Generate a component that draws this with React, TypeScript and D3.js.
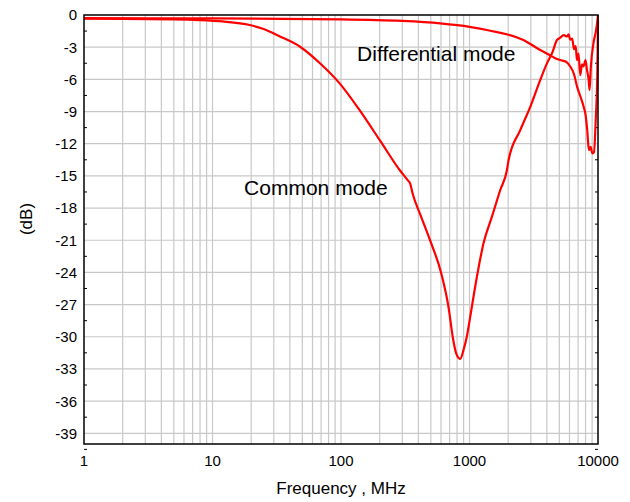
import React, { useRef, useEffect } from "react";
import * as d3 from "d3";

// frequency (MHz) / attenuation (dB)
const commonFreq = [1, 2, 5, 8, 12, 19.5, 25, 33.5, 48, 68.6, 98, 140, 201, 288, 330, 345, 360, 420, 493, 600, 690, 740, 790, 846, 900, 960, 1012, 1141, 1284, 1493, 1733, 1955, 2013, 2483, 2970, 3549, 4006, 4385, 4800, 5100, 5400, 5730, 5900, 6080, 6300, 6500, 6700, 6860, 7050, 7280, 7500, 7700, 8000, 8200, 8450, 8600, 8800, 9230, 9600, 9830, 10000];
const commonDb = [-0.35, -0.37, -0.4, -0.47, -0.6, -0.93, -1.3, -2.0, -2.96, -4.5, -6.4, -8.9, -11.7, -14.5, -15.4, -15.7, -16.6, -18.8, -21.0, -24.0, -27.4, -30.0, -31.6, -32.06, -31.2, -29.8, -28.17, -24.43, -21.3, -18.83, -16.34, -14.47, -13.54, -10.74, -8.56, -6.07, -4.51, -3.58, -2.33, -2.1, -1.87, -2.0, -1.8, -2.3, -2.2, -3.2, -2.9, -4.2, -3.6, -5.6, -4.6, -4.8, -4.2, -5.1, -6.0, -7.0, -4.8, -2.6, -1.6, -0.8, 0];

const diffFreq = [1, 10, 100, 300, 590, 1000, 1366, 2630, 3549, 4200, 4600, 5060, 5640, 6080, 6500, 6880, 7300, 7750, 8000, 8240, 8490, 8760, 9030, 9300, 9600, 9890, 10000];
const diffDb = [-0.3, -0.32, -0.4, -0.55, -0.78, -1.1, -1.4, -2.33, -3.27, -3.73, -4.0, -4.2, -4.36, -4.8, -5.5, -6.7, -7.6, -8.6, -9.3, -10.7, -12.6, -12.3, -12.9, -12.8, -9.8, -5.1, -0.5];

const yTicks = [0, -3, -6, -9, -12, -15, -18, -21, -24, -27, -30, -33, -36, -39];
const xTicks = [1, 10, 100, 1000, 10000];

const App: React.FC = () => {
  const svgRef = useRef<SVGSVGElement>(null);

  useEffect(() => {
    const margin = { top: 15, right: 32, bottom: 58, left: 84 };
    const width = 630 - margin.left - margin.right;
    const height = 502 - margin.top - margin.bottom;

    const svg = d3.select(svgRef.current);
    svg.selectAll("*").remove();
    const g = svg.append("g").attr("transform", `translate(${margin.left},${margin.top})`);

    const x = d3.scaleLog().domain([1, 10000]).range([0, width]);
    const y = d3.scaleLinear().domain([-40, 0]).range([height, 0]);

    // vertical grid at every log tick
    const gridX: number[] = [];
    for (let dec = 1; dec < 10000; dec *= 10) {
      for (let m = 1; m <= 9; m++) {
        if (dec * m > 1) gridX.push(dec * m);
      }
    }
    g.append("g")
      .selectAll("line")
      .data(gridX)
      .enter()
      .append("line")
      .attr("x1", d => x(d)).attr("x2", d => x(d))
      .attr("y1", 0).attr("y2", height)
      .attr("stroke", "#c8c8c8").attr("stroke-width", 1.2);

    g.append("g")
      .selectAll("line")
      .data(yTicks.filter(d => d !== 0))
      .enter()
      .append("line")
      .attr("x1", 0).attr("x2", width)
      .attr("y1", d => y(d)).attr("y2", d => y(d))
      .attr("stroke", "#c8c8c8").attr("stroke-width", 1.2);

    // small minor ticks inside the frame
    const minorY = yTicks.map(d => d - 1.5);
    g.append("g")
      .selectAll("line")
      .data(minorY)
      .enter()
      .append("line")
      .attr("x1", 0).attr("x2", 3)
      .attr("y1", d => y(d)).attr("y2", d => y(d))
      .attr("stroke", "#000").attr("stroke-width", 1);
    g.append("g")
      .selectAll("line")
      .data(minorY)
      .enter()
      .append("line")
      .attr("x1", width - 3).attr("x2", width)
      .attr("y1", d => y(d)).attr("y2", d => y(d))
      .attr("stroke", "#000").attr("stroke-width", 1);

    const line = d3.line<[number, number]>()
      .curve(d3.curveMonotoneX)
      .x(d => x(d[0]))
      .y(d => y(d[1]));

    const series = [
      commonFreq.map((f, i) => [f, commonDb[i]] as [number, number]),
      diffFreq.map((f, i) => [f, diffDb[i]] as [number, number]),
    ];

    series.forEach(s => {
      g.append("path")
        .datum(s)
        .attr("fill", "none")
        .attr("stroke", "#ff0000")
        .attr("stroke-width", 2.2)
        .attr("stroke-linejoin", "round")
        .attr("d", line);
    });

    // frame
    g.append("rect")
      .attr("x", 0).attr("y", 0)
      .attr("width", width).attr("height", height)
      .attr("fill", "none")
      .attr("stroke", "#000")
      .attr("stroke-width", 1.5);

    const font = "'Liberation Sans', Arial, sans-serif";

    g.append("g")
      .selectAll("text")
      .data(yTicks)
      .enter()
      .append("text")
      .attr("x", -7)
      .attr("y", d => y(d))
      .attr("dy", "0.36em")
      .attr("text-anchor", "end")
      .style("font-family", font)
      .style("font-size", "15px")
      .text(d => `${d}`);

    g.append("g")
      .selectAll("text")
      .data(xTicks)
      .enter()
      .append("text")
      .attr("x", d => x(d))
      .attr("y", height + 22)
      .attr("text-anchor", "middle")
      .style("font-family", font)
      .style("font-size", "15px")
      .text(d => `${d}`);

    g.append("text")
      .attr("x", width / 2)
      .attr("y", height + 50)
      .attr("text-anchor", "middle")
      .style("font-family", font)
      .style("font-size", "17px")
      .text("Frequency , MHz");

    svg.append("text")
      .attr("transform", `translate(32,219) rotate(-90)`)
      .attr("text-anchor", "middle")
      .style("font-family", font)
      .style("font-size", "17px")
      .text("(dB)");

    g.append("text")
      .attr("x", x(345) - 166)
      .attr("y", y(-16.8))
      .style("font-family", font)
      .style("font-size", "21px")
      .text("Common mode");

    g.append("text")
      .attr("x", x(345) - 53)
      .attr("y", y(-4.3))
      .style("font-family", font)
      .style("font-size", "21px")
      .text("Differential mode");
  }, []);

  return (
    <svg
      ref={svgRef}
      width={630}
      height={502}
      style={{ position: "absolute", left: 0, top: 0, background: "#fff" }}
    ></svg>
  );
};

export default App;
